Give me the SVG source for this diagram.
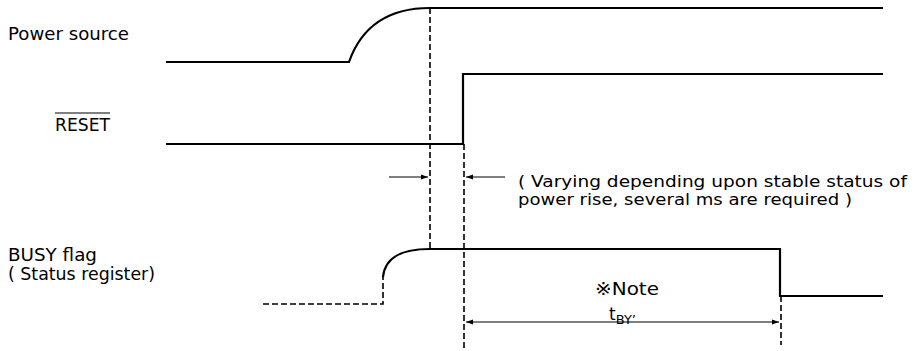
<svg xmlns="http://www.w3.org/2000/svg" width="915" height="351" viewBox="0 0 915 351">
<defs>
<marker id="ah" viewBox="0 0 10 10" refX="10" refY="5" markerWidth="11" markerHeight="7" markerUnits="userSpaceOnUse" orient="auto-start-reverse">
<path d="M0,1.5 L10,5 L0,8.5 Z" fill="#000"/>
</marker>
<style>
.sig{fill:none;stroke:#000;stroke-width:2.2;stroke-linejoin:miter}
.dash{fill:none;stroke:#000;stroke-width:1.6;stroke-dasharray:6,3}
.arr{fill:none;stroke:#000;stroke-width:1.2}
.lbl{font-family:"DejaVu Sans","Liberation Sans",sans-serif;font-size:17px;fill:#000}
.sm{font-size:15.5px}
</style>
</defs>
<rect width="915" height="351" fill="#fff"/>
<g id="power">
<text class="lbl" x="8" y="40" textLength="121" lengthAdjust="spacingAndGlyphs">Power source</text>
<path class="sig" d="M166,62 H349 C362,25 390,8 430,8 H883"/>
</g>
<g id="reset">
<text class="lbl" x="55" y="131" textLength="55" lengthAdjust="spacingAndGlyphs">RESET</text>
<line x1="55" y1="113" x2="110" y2="113" stroke="#000" stroke-width="1.2"/>
<path class="sig" d="M166,144 H463 V74 H883"/>
</g>
<g id="busy">
<text class="lbl" x="8" y="261" textLength="89" lengthAdjust="spacingAndGlyphs">BUSY flag</text>
<text class="lbl" x="8" y="280" textLength="147" lengthAdjust="spacingAndGlyphs">( Status register)</text>
<path class="dash" d="M263,304 H383 V277"/>
<path class="sig" d="M383,277 C385,258 400,249 430,249 H780 V296 H883"/>
</g>
<g id="connectors">
<line class="dash" x1="430" y1="8" x2="430" y2="249"/>
<line class="dash" x1="464" y1="144" x2="464" y2="351"/>
<line class="dash" x1="781" y1="296" x2="781" y2="345"/>
<line class="arr" x1="389" y1="177" x2="428" y2="177" marker-end="url(#ah)"/>
<line class="arr" x1="505" y1="177" x2="466" y2="177" marker-end="url(#ah)"/>
<line class="arr" x1="466" y1="322" x2="779" y2="322" marker-start="url(#ah)" marker-end="url(#ah)"/>
</g>
<g id="notes">
<text class="lbl sm" x="518" y="187" textLength="389" lengthAdjust="spacingAndGlyphs">( Varying depending upon stable status of</text>
<text class="lbl sm" x="518" y="205" textLength="334" lengthAdjust="spacingAndGlyphs">power rise, several ms are required )</text>
<text class="lbl" x="595" y="295" textLength="64" lengthAdjust="spacingAndGlyphs">※Note</text>
<text class="lbl" x="609" y="320">t<tspan font-size="13" dy="4">BY’</tspan></text>
</g>
</svg>
